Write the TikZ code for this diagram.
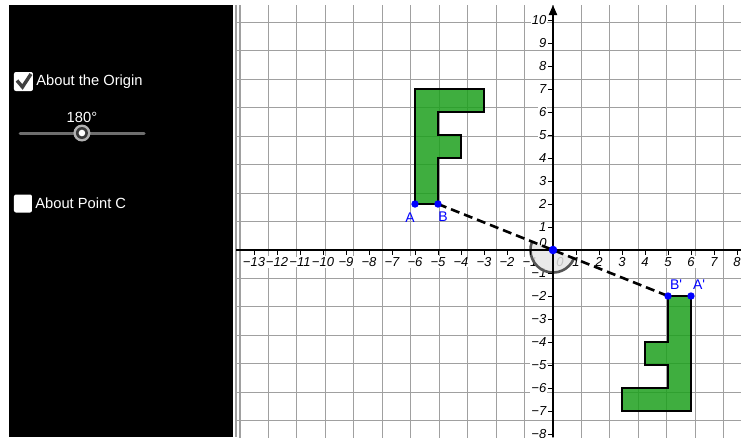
\documentclass[tikz,border=0pt]{standalone}
\usepackage{fontspec}
\setmainfont{Liberation Sans}
\usetikzlibrary{positioning,arrows.meta}
\definecolor{shapegreen}{RGB}{29,160,29}
\definecolor{sliderbar}{RGB}{110,110,110}
\definecolor{gridgray}{RGB}{160,160,160}
\definecolor{checkgray}{RGB}{64,64,64}
\definecolor{arcgray}{RGB}{85,85,85}

\begin{document}
\begin{tikzpicture}[x=23pt, y=23pt,
        gridline/.style={draw=gridgray, line width=1.1pt},
        axisline/.style={draw=black, line width=2pt},
        ticklabel/.style={fill=white, inner sep=1pt, font=\fontsize{13pt}{15pt}\selectfont\itshape},
        shapeF/.style={draw=black, line width=2.8pt, fill=shapegreen, fill opacity=0.85},
        dashline/.style={draw=black, line width=2.6pt, dash pattern=on 9pt off 5pt},
        ptlabel/.style={text=blue, inner sep=0pt, font=\fontsize{14pt}{16pt}\selectfont},
        paneltext/.style={text=white, inner sep=0pt, font=\fontsize{14.7pt}{17pt}\selectfont},
        checkbox/.style={fill=white, rounded corners=2pt, inner sep=0pt},
    ]
    \useasboundingbox (-24.043,-8.130) rectangle (8.174,10.870);

    % grid
    \begin{scope}
        \clip (-13.78,-8.13) rectangle (8.174,10.652);
        \draw[gridline] (-13.9,-8.2) grid (8.3,10.9);
    \end{scope}
    \draw[gridline] (-13.78,-8.13) -- (-13.78,10.652);

    % tick labels
    \foreach \x in {1,...,13} \node[ticklabel] (xn\x) at (-\x,-0.52) {−\x};
    \foreach \x in {1,...,8}  \node[ticklabel] (xp\x) at (\x,-0.52) {\x};
    \foreach \y in {1,...,10} \node[ticklabel, anchor=east] (yp\y) at (-0.24,\y) {\y};
    \foreach \y in {1,...,8}  \node[ticklabel, anchor=east] (yn\y) at (-0.24,-\y) {−\y};
    \node[ticklabel, fill=none] (yzero) at (-0.43,0.3) {0};
    \node[ticklabel, fill=none] (xzero) at (0.3,-0.52) {0};

    % angle
    \coordinate (O) at (0,0);
    \fill[black!10, fill opacity=0.85] (O) -- (158.2:0.98) arc[start angle=158.2, end angle=338.2, radius=0.98] -- cycle;
    \draw[arcgray, line width=2.6pt] (158.2:0.98) arc[start angle=158.2, end angle=338.2, radius=0.98];

    % axes
    \draw[axisline] (-13.78,0) -- (8.174,0);
    \draw[axisline, -{Triangle[length=10pt,width=8pt]}] (0,-8.13) -- (0,10.652);
    \foreach \x in {-13,...,-1,1,2,...,8} \draw[black, line width=0.9pt] (\x,0) -- ++(0,-5pt);
    \foreach \y in {-8,...,-1,1,2,...,10} \draw[black, line width=0.9pt] (0,\y) -- ++(-5pt,0);

    % F and its image
    \coordinate (A)  at (-6,2);
    \coordinate (B)  at (-5,2);
    \coordinate (Ap) at (6,-2);
    \coordinate (Bp) at (5,-2);
    \draw[shapeF] (A) -- (B) -- (-5,4) -- (-4,4) -- (-4,5) -- (-5,5) -- (-5,6) -- (-3,6) -- (-3,7) -- (-6,7) -- cycle;
    \draw[shapeF] (Ap) -- (Bp) -- (5,-4) -- (4,-4) -- (4,-5) -- (5,-5) -- (5,-6) -- (3,-6) -- (3,-7) -- (6,-7) -- cycle;

    \draw[dashline] (B) -- (Bp);
    \foreach \p in {A,B,Ap,Bp} \fill[blue] (\p) circle (3.7pt);
    \fill[blue] (O) circle (4.3pt);

    \node[ptlabel] (labA)  at (-6.22,1.39) {A};
    \node[ptlabel] (labB)  at (-4.78,1.43) {B};
    \node[ptlabel] (labBp) at (5.35,-1.52) {B\textquotesingle};
    \node[ptlabel] (labAp) at (6.35,-1.52) {A\textquotesingle};

    % panel
    \fill[black] (-23.665,-8.13) rectangle (-13.913,10.652);
    \node[checkbox, minimum size=19pt] (box1) at (-23.022,7.326) {};
    \draw[checkgray, line width=3.4pt] ([shift={(-6.5pt,1pt)}]box1.center) -- ([shift={(-1pt,-5.5pt)}]box1.center) -- ([shift={(7.5pt,7.5pt)}]box1.center);
    \node[paneltext] (origintxt) [right = 3pt of box1] {About the Origin};

    \coordinate (slidemin) at (-23.17,5.087);
    \coordinate (slidemax) at (-17.78,5.087);
    \coordinate (knob)     at (-20.48,5.087);
    \draw[sliderbar, line width=3pt, line cap=round] (slidemin) -- (slidemax);
    \fill[gray!60] (knob) circle (8.5pt);
    \fill[gray!45!black] (knob) circle (6pt);
    \fill[white] (knob) circle (3.3pt);
    \node[paneltext] (anglelbl) at (-20.48,5.78) {180°};

    \node[checkbox, minimum size=18pt] (box2) at (-23.043,2.022) {};
    \node[paneltext] (pointtxt) [right = 3pt of box2] {About Point C};
\end{tikzpicture}
\end{document}
